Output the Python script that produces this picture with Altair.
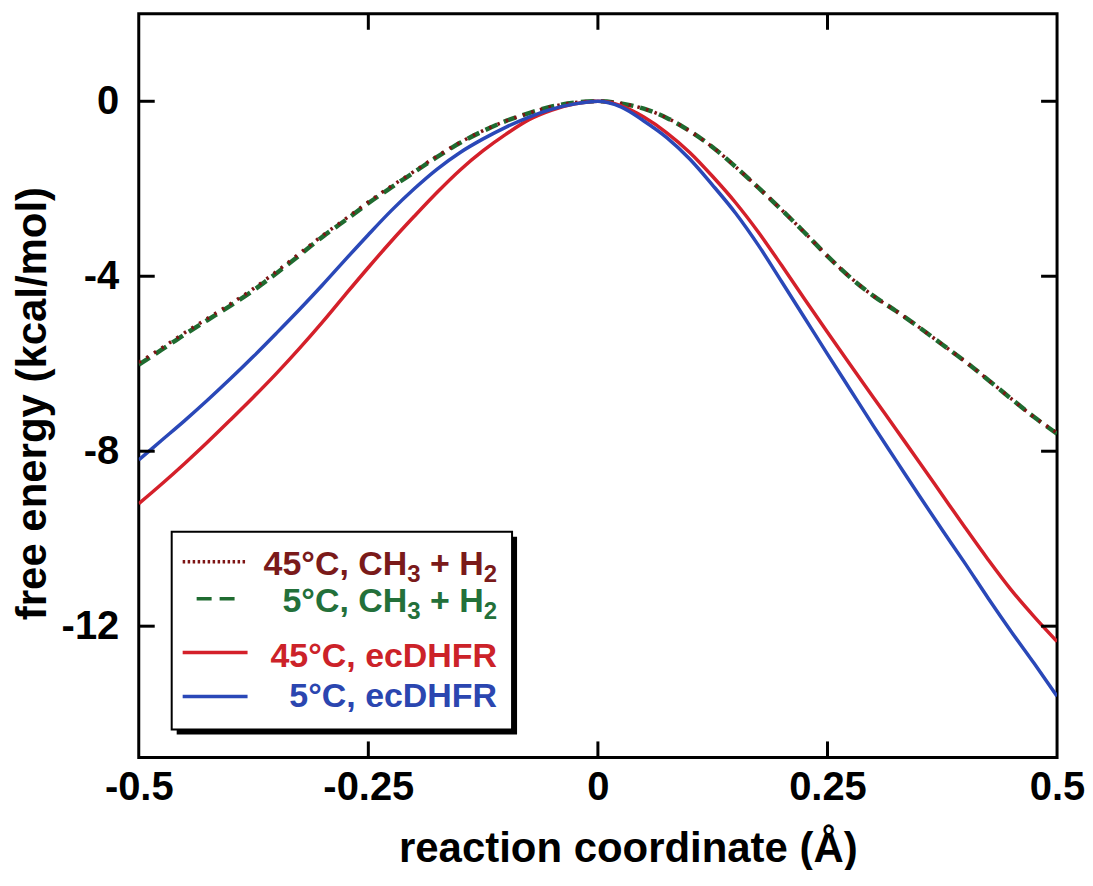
import altair as alt
import pandas as pd

# reaction coordinate (Å)
X = [-0.5, -0.475, -0.45, -0.425, -0.4, -0.375, -0.35, -0.325, -0.3, -0.275,
     -0.25, -0.225, -0.2, -0.175, -0.15, -0.125, -0.1, -0.075, -0.05, -0.025,
     0.0, 0.025, 0.05, 0.075, 0.1, 0.125, 0.15, 0.175, 0.2, 0.225,
     0.25, 0.275, 0.3, 0.325, 0.35, 0.375, 0.4, 0.425, 0.45, 0.475, 0.5]

# free energy (kcal/mol)
Y_45_CH3 = [-5.97, -5.64, -5.29, -4.96, -4.63, -4.28, -3.89, -3.48, -3.07, -2.69,
            -2.30, -1.94, -1.60, -1.25, -0.94, -0.67, -0.45, -0.27, -0.12, -0.03,
            0.0, -0.05, -0.17, -0.38, -0.68, -1.05, -1.50, -1.98, -2.48, -3.00,
            -3.54, -4.03, -4.45, -4.80, -5.17, -5.56, -5.95, -6.37, -6.80, -7.22, -7.58]
Y_5_CH3 = [-6.02, -5.68, -5.33, -5.00, -4.67, -4.32, -3.93, -3.52, -3.10, -2.72,
           -2.33, -1.97, -1.62, -1.27, -0.95, -0.68, -0.45, -0.27, -0.12, -0.03,
           0.0, -0.05, -0.17, -0.38, -0.68, -1.05, -1.50, -1.98, -2.48, -3.00,
           -3.54, -4.03, -4.45, -4.80, -5.17, -5.56, -5.95, -6.37, -6.80, -7.22, -7.60]
Y_45_EC = [-9.20, -8.75, -8.28, -7.79, -7.28, -6.76, -6.22, -5.65, -5.05, -4.42,
           -3.80, -3.20, -2.63, -2.08, -1.57, -1.13, -0.75, -0.42, -0.20, -0.06,
           0.0, -0.10, -0.36, -0.72, -1.17, -1.72, -2.32, -3.00, -3.75, -4.52,
           -5.28, -6.03, -6.77, -7.51, -8.25, -9.00, -9.75, -10.48, -11.17, -11.78, -12.35]
Y_5_EC = [-8.20, -7.75, -7.30, -6.83, -6.34, -5.83, -5.30, -4.76, -4.20, -3.62,
          -3.05, -2.50, -2.00, -1.55, -1.17, -0.86, -0.59, -0.36, -0.18, -0.06,
          0.0, -0.13, -0.45, -0.83, -1.32, -1.92, -2.56, -3.30, -4.12, -4.95,
          -5.78, -6.60, -7.42, -8.22, -9.02, -9.80, -10.57, -11.36, -12.12, -12.85, -13.60]

SERIES = ["45°C, CH₃ + H₂", "5°C, CH₃ + H₂", "45°C, ecDHFR", "5°C, ecDHFR"]
# legend text pieces (main text, subscript, main text, subscript)
LEGEND_PARTS = [
    ["45°C, CH", "3", "+ H", "2"],
    ["5°C, CH", "3", "+ H", "2"],
    ["45°C, ecDHFR"],
    ["5°C, ecDHFR"],
]
SERIES_Y = [Y_45_CH3, Y_5_CH3, Y_45_EC, Y_5_EC]
LINE_COLORS = ["#7d1414", "#1f6b30", "#d4202a", "#2a48b8"]
TEXT_COLORS = ["#7a1a1a", "#23703a", "#cc2229", "#2b46b0"]

X_TICKS = [-0.5, -0.25, 0, 0.25, 0.5]
Y_TICKS = [-12, -8, -4, 0]
X_INNER_TICKS = [-0.25, 0, 0.25]

W, H = 920, 745
FONT = "Liberation Sans"

rows = []
for name, ys in zip(SERIES, SERIES_Y):
    for xv, yv in zip(X, ys):
        rows.append({"series": name, "x": xv, "y": yv})
df = pd.DataFrame(rows)

xscale = alt.Scale(domain=[-0.5, 0.5], nice=False, zero=False)
yscale = alt.Scale(domain=[-15, 2], nice=False, zero=False)

xaxis = alt.Axis(values=X_TICKS, labelExpr="toString(datum.value)", labelFlush=False,
                 labelOverlap=False, labelPadding=10, title="reaction coordinate (Å)",
                 titleX=490, titleY=104, titleBaseline="alphabetic", titleAlign="center")
yaxis = alt.Axis(values=Y_TICKS, labelExpr="toString(datum.value)", labelPadding=20,
                 labelOverlap=False, title="free energy (kcal/mol)",
                 titleX=-106, titleY=390, titleBaseline="middle", titleAlign="center")

X_ENC = alt.X("x:Q", scale=xscale, axis=xaxis)
Y_ENC = alt.Y("y:Q", scale=yscale, axis=yaxis)

styles = {
    SERIES[1]: dict(strokeWidth=4.5, strokeDash=[13, 7]),
    SERIES[0]: dict(strokeWidth=3.5, strokeDash=[2.5, 6.5]),
    SERIES[2]: dict(strokeWidth=3.5),
    SERIES[3]: dict(strokeWidth=3.5),
}

layers = []
for idx in [1, 0, 2, 3]:
    name = SERIES[idx]
    layers.append(
        alt.Chart(df).transform_filter(alt.datum.series == name)
        .mark_line(color=LINE_COLORS[idx], interpolate="monotone", clip=True, **styles[name])
        .encode(x=X_ENC, y=Y_ENC, order="x:Q")
    )

# inward ticks
xt = pd.DataFrame({"x": X_INNER_TICKS})
yt = pd.DataFrame({"y": Y_TICKS})
TL = 16
layers.append(alt.Chart(xt).mark_rule(color="black", strokeWidth=3)
              .encode(x=X_ENC, y=alt.value(0), y2=alt.value(TL)))
layers.append(alt.Chart(xt).mark_rule(color="black", strokeWidth=3)
              .encode(x=X_ENC, y=alt.value(H - TL), y2=alt.value(H)))
layers.append(alt.Chart(yt).mark_rule(color="black", strokeWidth=3)
              .encode(y=Y_ENC, x=alt.value(0), x2=alt.value(TL)))
layers.append(alt.Chart(yt).mark_rule(color="black", strokeWidth=3)
              .encode(y=Y_ENC, x=alt.value(W - TL), x2=alt.value(W)))

# legend box
one = pd.DataFrame({"d": [0]})
layers.append(alt.Chart(one).mark_rect(color="black")
              .encode(x=alt.value(38), x2=alt.value(379), y=alt.value(524), y2=alt.value(722)))
layers.append(alt.Chart(one).mark_rect(fill="white", stroke="black", strokeWidth=2)
              .encode(x=alt.value(33), x2=alt.value(374), y=alt.value(519), y2=alt.value(717)))

LEG_LINE_Y = [549, 586, 640, 684]
LEG_TEXT_Y = [562, 599, 654, 694]
LEG_LINE_X = [(44, 109), (58, 100), (44, 109), (44, 109)]
LEG_DASH = [[2.5, 2.5], [15, 8], None, None]
MAIN_FS, SUB_FS, SUB_DY = 34, 24, 7
TEXT_RIGHT = 359
# Arial/Liberation Sans Bold advance widths (em)
ADV = {"0": .556, "1": .556, "2": .556, "3": .556, "4": .556, "5": .556, "+": .584,
       " ": .278, "H": .722}


def width(s, fs):
    return sum(ADV.get(c, .6) for c in s) * fs


for i in range(4):
    kw = dict(color=LINE_COLORS[i], strokeWidth=3.5)
    if LEG_DASH[i]:
        kw["strokeDash"] = LEG_DASH[i]
    layers.append(alt.Chart(one).mark_rule(**kw)
                  .encode(x=alt.value(LEG_LINE_X[i][0]), x2=alt.value(LEG_LINE_X[i][1]),
                          y=alt.value(LEG_LINE_Y[i])))
    parts = LEGEND_PARTS[i]
    right = TEXT_RIGHT
    # lay out pieces from the right end leftwards
    for j in range(len(parts) - 1, -1, -1):
        piece = parts[j]
        is_sub = (len(parts) > 1 and j % 2 == 1)
        fs = SUB_FS if is_sub else MAIN_FS
        yy = LEG_TEXT_Y[i] + (SUB_DY if is_sub else 0)
        layers.append(alt.Chart(one).mark_text(align="right", baseline="alphabetic", font=FONT,
                                               fontSize=fs, fontWeight="bold", color=TEXT_COLORS[i])
                      .encode(x=alt.value(right), y=alt.value(yy), text=alt.value(piece)))
        right -= width(piece, fs)
        if j == 2:
            right -= width(" ", MAIN_FS)

chart = (
    alt.layer(*layers)
    .properties(width=W, height=H,
                padding={"left": 131, "top": 5, "right": 28, "bottom": 112},
                autosize=alt.AutoSizeParams(type="none"))
    .configure_view(stroke="black", strokeWidth=3)
    .configure_axis(labelFont=FONT, labelFontSize=40, labelFontWeight="bold", labelColor="black",
                    titleFont=FONT, titleFontSize=42, titleFontWeight="bold", titleColor="black",
                    grid=False, ticks=False, domain=False)
)

chart.save("out.html", embed_options={"renderer": "svg", "actions": False})
